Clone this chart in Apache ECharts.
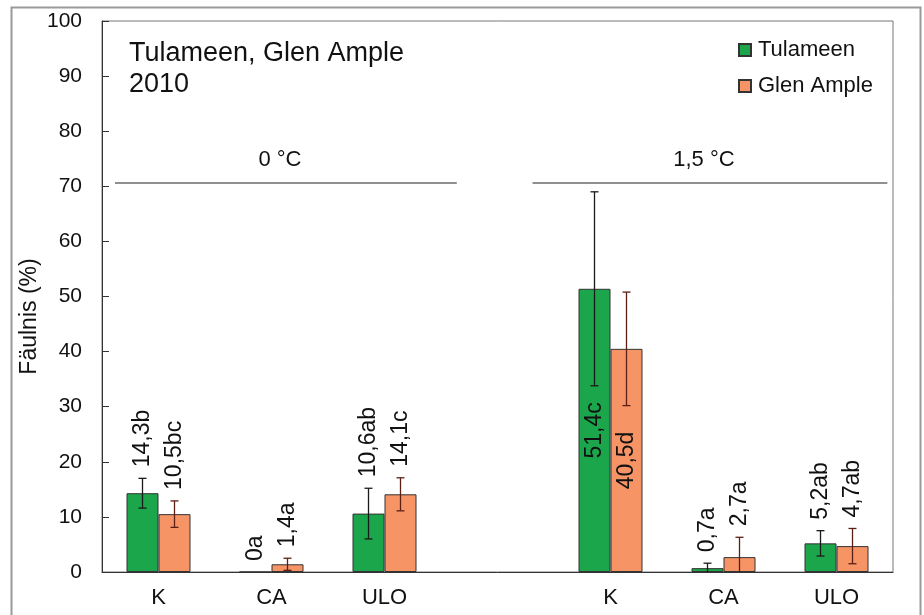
<!DOCTYPE html>
<html>
<head>
<meta charset="utf-8">
<script src="https://cdn.jsdelivr.net/npm/echarts@6/dist/echarts.min.js"></script>
<style>
html,body{margin:0;padding:0;background:#fff;}
#chart{width:924px;height:615px;}
</style>
</head>
<body>
<div id="chart"></div>
<script>
// ---- data ----
const categories = ['K', 'CA', 'ULO', '', 'K', 'CA', 'ULO'];
const tulameen = [14.3, 0, 10.6, null, 51.4, 0.7, 5.2];
const glenAmple = [10.5, 1.4, 14.1, null, 40.5, 2.7, 4.7];
const tulameenErr = [2.7, 0, 4.6, null, 17.6, 0.9, 2.3];
const glenAmpleErr = [2.4, 1.1, 3.0, null, 10.3, 3.6, 3.2];
const tulameenLetters = ['b', 'a', 'ab', null, 'c', 'a', 'ab'];
const glenAmpleLetters = ['bc', 'a', 'c', null, 'd', 'a', 'ab'];
const groupLabels = ['0 °C', '1,5 °C'];
const groupFrom = [0, 4];
const groupTo = [2, 6];
const yMin = 0, yMax = 100, yInterval = 10;

// ---- style constants ----
const FONT = 'Arial, "Liberation Sans", sans-serif';
const BAR_W = 32;
const GREEN = '#1ca64c';
const ORANGE = '#f79466';
const GROUP_LEVEL = 70.6;
const INSIDE_LABEL_THRESHOLD = 40;
const groupExtents = [[-0.385, 0.64], [-0.69, 0.45]];

function fmt(v, letter) {
  return String(v).replace('.', ',') + (letter || '');
}

function errData(vals, errs) {
  const out = [];
  vals.forEach((v, i) => {
    if (v !== null) out.push([i, v, errs[i]]);
  });
  return out;
}

function makeErrRender(offsetSign, errColor, letters) {
  return function (params, api) {
    const i = api.value(0), v = api.value(1), e = api.value(2);
    const base = api.coord([i, v]);
    const x = base[0] + offsetSign * BAR_W / 2;
    const children = [];
    const topY = api.coord([i, v + e])[1];
    if (e > 0) {
      const lowVal = Math.max(0, v - e);
      const botY = api.coord([i, lowVal])[1];
      const st = { stroke: errColor, lineWidth: 1.3 };
      children.push({ type: 'line', shape: { x1: x, y1: topY, x2: x, y2: botY }, style: st });
      children.push({ type: 'line', shape: { x1: x - 4, y1: topY, x2: x + 4, y2: topY }, style: st });
      if (v - e > 0) {
        children.push({ type: 'line', shape: { x1: x - 4, y1: botY, x2: x + 4, y2: botY }, style: st });
      }
    }
    const txt = fmt(v, letters[i]);
    if (v + e > INSIDE_LABEL_THRESHOLD) {
      const mid = api.coord([i, v / 2])[1];
      children.push({
        type: 'text', x: x, y: mid, rotation: Math.PI / 2,
        style: { text: txt, textAlign: 'center', textVerticalAlign: 'middle', fill: '#111', font: '23px ' + FONT }
      });
    } else {
      children.push({
        type: 'text', x: x, y: topY - 11, rotation: Math.PI / 2,
        style: { text: txt, textAlign: 'left', textVerticalAlign: 'middle', fill: '#111', font: '23px ' + FONT }
      });
    }
    return { type: 'group', children: children };
  };
}

const groupData = groupLabels.map((g, k) => [groupFrom[k], GROUP_LEVEL, groupTo[k]]);

const chart = echarts.init(document.getElementById('chart'));
chart.setOption({
  animation: false,
  backgroundColor: '#fff',
  textStyle: { fontFamily: FONT },
  graphic: [{
    type: 'rect', left: 9, top: 5,
    shape: { width: 909, height: 640 },
    style: { fill: 'none', stroke: '#9a9a9a', lineWidth: 2 },
    silent: true
  }],
  title: {
    text: 'Tulameen, Glen Ample\n2010',
    left: 124, top: 33,
    textStyle: { fontSize: 27, fontWeight: 'normal', color: '#111', lineHeight: 31, fontFamily: FONT }
  },
  legend: {
    data: ['Tulameen', 'Glen Ample'],
    orient: 'vertical',
    left: 738, top: 39,
    padding: 0,
    itemWidth: 12, itemHeight: 12, itemGap: 14,
    icon: 'rect',
    textStyle: { fontSize: 22, color: '#111', fontFamily: FONT, padding: [0, 0, 0, 2] }
  },
  grid: {
    left: 102, right: 31, top: 21, bottom: 43,
    outerBoundsMode: 'none',
    containLabel: false,
    show: true, borderColor: '#777', borderWidth: 1
  },
  xAxis: {
    type: 'category',
    data: categories,
    axisLine: { lineStyle: { color: '#333', width: 1 } },
    axisTick: { show: false },
    axisLabel: { fontSize: 22, color: '#111', margin: 15, fontFamily: FONT, interval: 0 },
    splitLine: { show: false }
  },
  yAxis: {
    type: 'value',
    min: yMin, max: yMax, interval: yInterval,
    name: 'Fäulnis (%)',
    nameLocation: 'middle',
    nameRotate: 90,
    nameGap: 61,
    nameMoveOverlap: false,
    nameTextStyle: { fontSize: 23, color: '#111', fontFamily: FONT, padding: [0, 40, 0, 0] },
    axisLine: { show: true, lineStyle: { color: '#333', width: 1 } },
    axisTick: { show: true, inside: true, length: 7, lineStyle: { color: '#333' } },
    axisLabel: { fontSize: 21, color: '#111', margin: 20, fontFamily: FONT },
    splitLine: { show: false }
  },
  series: [
    {
      name: 'Tulameen', type: 'bar', data: tulameen,
      barWidth: BAR_W, barGap: '0%',
      itemStyle: { color: GREEN, borderColor: '#333', borderWidth: 1 }
    },
    {
      name: 'Glen Ample', type: 'bar', data: glenAmple,
      barWidth: BAR_W, barGap: '0%',
      itemStyle: { color: ORANGE, borderColor: '#333', borderWidth: 1 }
    },
    {
      type: 'custom', z: 5,
      renderItem: makeErrRender(-1, '#1a1a1a', tulameenLetters),
      data: errData(tulameen, tulameenErr),
      encode: { x: 0, y: 1 }, clip: false
    },
    {
      type: 'custom', z: 5,
      renderItem: makeErrRender(1, '#5c1f14', glenAmpleLetters),
      data: errData(glenAmple, glenAmpleErr),
      encode: { x: 0, y: 1 }, clip: false
    },
    {
      type: 'custom', z: 4,
      data: groupData,
      encode: { x: 0, y: 1 }, clip: false,
      renderItem: function (params, api) {
        const k = params.dataIndex;
        const w = api.size([1, 0])[0];
        const p0 = api.coord([api.value(0), api.value(1)]);
        const p1 = api.coord([api.value(2), api.value(1)]);
        const x0 = p0[0] + groupExtents[k][0] * w;
        const x1 = p1[0] + groupExtents[k][1] * w;
        const y = p0[1];
        return {
          type: 'group',
          children: [
            { type: 'line', shape: { x1: x0, y1: y, x2: x1, y2: y }, style: { stroke: '#222', lineWidth: 1.2 } },
            { type: 'text', x: (x0 + x1) / 2 - 6, y: y - 23,
              style: { text: groupLabels[k], textAlign: 'center', textVerticalAlign: 'middle', fill: '#111', font: '22px ' + FONT } }
          ]
        };
      }
    }
  ]
});
</script>
</body>
</html>
